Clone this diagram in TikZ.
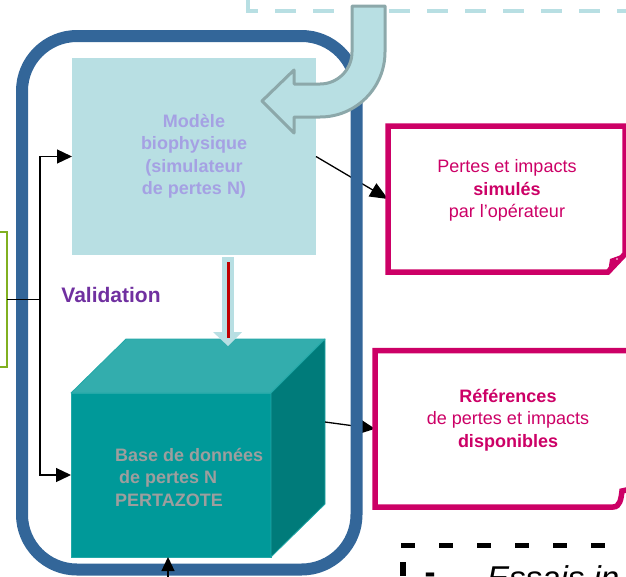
\documentclass[tikz,border=0pt]{standalone}
\usepackage{fontspec}
\setmainfont{Liberation Sans}
\usetikzlibrary{arrows.meta,calc}
\definecolor{frameblue}{HTML}{336699}
\definecolor{lightb}{HTML}{B8DFE3}
\definecolor{arrowgrey}{HTML}{8CA8AA}
\definecolor{pinkc}{HTML}{CC0066}
\definecolor{lavender}{HTML}{A5A1E3}
\definecolor{valpurple}{HTML}{7030A0}
\definecolor{tealfront}{HTML}{009999}
\definecolor{tealtop}{HTML}{33ADAD}
\definecolor{tealright}{HTML}{007B7A}
\definecolor{tealedge}{HTML}{22A8A8}
\definecolor{cubegrey}{HTML}{9E9E9E}
\definecolor{redc}{HTML}{C00000}
\definecolor{greenc}{HTML}{80B020}
\begin{document}
\begin{tikzpicture}[x=1pt,y=1pt,
  conn/.style={line width=1.3pt,draw=black},
  arr/.style={conn,-{Triangle[length=15pt,width=14pt]}},
  pinkline/.style={draw=pinkc,line width=5.5pt,line join=miter},
  pinktext/.style={text=pinkc,align=center,inner sep=0pt,font=\fontsize{18}{22.5}\selectfont},
  geom/.style={draw=none,inner sep=0pt,outer sep=0pt},
  modelbox/.style={fill=lightb,minimum width=244pt,minimum height=197pt,inner sep=0pt,outer sep=0pt,align=center,text=lavender,font=\bfseries\fontsize{18}{22.5}\selectfont},
  cubebox/.style={fill=tealfront,draw=tealedge,line width=0.8pt,minimum width=200pt,minimum height=164pt,inner sep=0pt,outer sep=0pt},
  cubetext/.style={text=cubegrey,align=left,inner sep=0pt,font=\bfseries\fontsize{18}{22.5}\selectfont},
  valtext/.style={text=valpurple,inner sep=0pt,font=\bfseries\fontsize{21}{25}\selectfont},
  greenbox/.style={draw=greenc,line width=1.5pt,minimum width=40pt,minimum height=135pt,inner sep=0pt,outer sep=0pt},
  blackdash/.style={draw=black,line width=5pt,dash pattern=on 14pt off 24pt}
]
\useasboundingbox (0,0) rectangle (626,-576);
\clip (0,0) rectangle (626,-576);

% dashed light-blue box (top)
\draw[lightb,line width=4pt,dash pattern=on 21pt off 17pt,dash phase=28pt] (248,10) -- (248,-11) -- (700,-11);

% model box
\node[modelbox] (model) at (194,-156.5) {Modèle\\biophysique\\(simulateur\\de pertes N)};

% cube
\node[cubebox] (cube) at (171,-475) {};
\filldraw[fill=tealtop,draw=tealedge,line width=0.8pt,line join=round] (cube.north west) -- ++(55,54) -- ++(199,0) -- (cube.north east) -- cycle;
\filldraw[fill=tealright,draw=tealedge,line width=0.8pt,line join=round] (cube.north east) -- ++(54,54) -- ++(0,-165) -- (cube.south east) -- cycle;
\node[cubetext,anchor=west] (cubelabel) at (115,-477) {Base de données\\\hspace*{4pt}de pertes N\\PERTAZOTE};

% pink boxes (geometry)
\node[geom,minimum width=237pt,minimum height=146pt] (box1) at (506.5,-199) {};
\node[geom,minimum width=265pt,minimum height=156.5pt] (box2) at (507.5,-428.75) {};

% arrows under the frame
\draw[arr,-{Triangle[length=18pt,width=15pt]}] (model.east) -- (box1.west);
\coordinate (cuber) at ($(cube.east)+(54,53)$);
\draw[arr] (cuber) -- (box2.west);

% blue frame
\draw[frameblue,line width=12pt,rounded corners=55pt] (22,-36) rectangle (356.5,-569.5);

% pink outlines
\draw[pinkline] (box1.north west) -- (box1.north east) -- ($(box1.south east)+(0,18)$) -- ($(box1.south east)+(-17,0)$) -- (box1.south west) -- cycle;
\fill[pinkc,line join=round] ($(box1.south east)+(-17,0)$) -- ($(box1.south east)+(-15,13)$) -- ($(box1.south east)+(-1,18)$) -- cycle;
\fill[white] ($(box1.south east)+(-8,13)$) circle (0.8);
\draw[pinkline] (box2.north east) -- (box2.north west) -- (box2.south west) -- ($(box2.south west)+(238,0)$) .. controls ($(box2.south west)+(245,0)$) and ($(box2.south west)+(246,8)$) .. ($(box2.south west)+(247,16)$) -- ($(box2.south west)+(265,20)$);
\node[pinktext] (box1text) at (507,-190.5) {Pertes et impacts\\\textbf{simulés}\\par l’opérateur};
\node[pinktext] (box2text) at (508,-420) {\textbf{Références}\\de pertes et impacts\\\textbf{disponibles}};

% light-blue block arrow with red line
\fill[lightb] ($(model.south)+(28,-2)$) rectangle ($(model.south)+(40,-77)$);
\fill[lightb] ($(model.south)+(19,-77)$) -- ($(model.south)+(48,-77)$) -- ($(model.south)+(34,-91)$) -- cycle;
\draw[redc,line width=3pt] ($(model.south)+(34,-7)$) -- ($(model.south)+(34,-83)$);

% curved U-turn arrow
\filldraw[fill=lightb,draw=arrowgrey,line width=3pt,line join=round]
  (352,-6) -- (352,-52) arc[start angle=0,end angle=-90,radius=32]
  -- (294,-84) -- (294,-70) -- (262,-101) -- (294,-133) -- (294,-117)
  -- (320,-117) arc[start angle=-90,end angle=0,radius=65] -- (385,-6) -- cycle;

% left bracket
\node[greenbox] (green) at (-13,-299.5) {};
\coordinate (split) at (40,-299.5);
\draw[conn] (green.east) -- (split);
\draw[arr] (split) |- (model.west);
\draw[arr] (split) |- (cube.west);

% bottom arrow
\coordinate (bottomsrc) at (168,-600);
\draw[arr,-{Triangle[length=14pt,width=13pt]}] (bottomsrc) -- (bottomsrc |- cube.south);

% validation label
\node[valtext] (valid) at (111,-295) {Validation};

% black dashed box bottom right
\draw[blackdash] (401,-545) -- (700,-545);
\draw[blackdash,line width=6pt,dash phase=21pt] (403,-545) -- (403,-620);
\node[inner sep=0pt,font=\bfseries\fontsize{33}{33}\selectfont] (bullet) at (430,-578) {-};
\node[anchor=base west,inner sep=0pt,font=\itshape\fontsize{33}{33}\selectfont] (essais) at (487,-589) {Essais in situ};
\end{tikzpicture}
\end{document}
